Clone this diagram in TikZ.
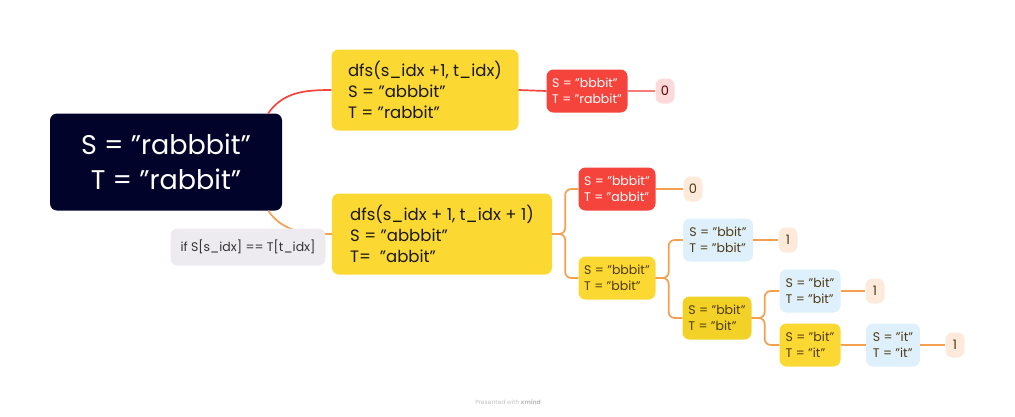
\documentclass[tikz,border=0pt]{standalone}
\usepackage{fontspec}
\setmainfont{Poppins}
\usetikzlibrary{positioning}
\definecolor{wurzel}{HTML}{02032B}
\definecolor{gelb}{HTML}{FCD832}
\definecolor{gelbdunkel}{HTML}{F2D226}
\definecolor{rot}{HTML}{F5443B}
\definecolor{hellblau}{HTML}{DDF0FB}
\definecolor{hellorange}{HTML}{FDEADB}
\definecolor{hellrot}{HTML}{FCDADA}
\definecolor{grau}{HTML}{EDEBF0}
\definecolor{braun}{HTML}{4F3A12}
\definecolor{linierot}{HTML}{F2453D}
\definecolor{linieorange}{HTML}{F5A04E}

\begin{document}
\begin{tikzpicture}[x=1pt, y=-1pt, % Pixelkoordinaten, y nach unten
  box/.style={rounded corners=7pt, inner sep=0pt, align=left},
  rootbox/.style={box, fill=wurzel, text=white, align=center, minimum width=232pt, minimum height=97pt, font=\fontsize{27}{35}\selectfont},
  bigbox/.style={box, fill=gelb, text=black!90, minimum height=81pt, font=\fontsize{16.5}{21}\selectfont},
  smallbox/.style={box, minimum height=43pt, font=\fontsize{12.5}{16}\selectfont},
  redbox/.style={smallbox, fill=rot, text=white},
  yellowbox/.style={smallbox, fill=gelb, text=braun},
  bluebox/.style={smallbox, fill=hellblau, text=braun},
  leaf/.style={box, minimum width=19pt, minimum height=25pt, font=\fontsize{13}{16}\selectfont},
  redline/.style={draw=linierot, line width=1.7pt},
  orangeline/.style={draw=linieorange, line width=1.7pt, rounded corners=6pt}]

\useasboundingbox (0,0) rectangle (1015,416);

% Wurzel
\node[rootbox] (root) at (166,162) {S = "rabbbit"\\T = "rabbit"};

% erster Zweig
\node[bigbox, minimum width=187pt] (a) at (425,90) {dfs(s\_idx +1, t\_idx)\\S = "abbbit"\\T = "rabbit"};
\node[redbox, minimum width=81pt] (a1) at (587,91) {S = "bbbit"\\T = "rabbit"};
\node[leaf, fill=hellrot, text=red!40!black] (a0) at (665,91) {0};

% zweiter Zweig
\node[bigbox, minimum width=220pt] (b) at (442,234) {dfs(s\_idx + 1, t\_idx + 1)\\S = "abbbit"\\T=\ \ "abbit"};
\node[redbox, minimum width=77pt] (b1) at (617,189) {S = "bbbit"\\T = "abbit"};
\node[leaf, fill=hellorange, text=braun] (b10) at (693,189) {0};
\node[yellowbox, minimum width=77pt] (b2) at (617,278) {S = "bbbit"\\T = "bbit"};
\node[bluebox, minimum width=70pt] (b21) at (718,240) {S = "bbit"\\T = "bbit"};
\node[leaf, fill=hellorange, text=braun] (b210) at (788,240) {1};
\node[yellowbox, fill=gelbdunkel, minimum width=69pt] (b22) at (717,318) {S = "bbit"\\T = "bit"};
\node[bluebox, minimum width=61pt] (b221) at (810,291) {S = "bit"\\T = "bit"};
\node[leaf, fill=hellorange, text=braun] (b2210) at (875,291) {1};
\node[yellowbox, minimum width=61pt] (b222) at (810,345) {S = "bit"\\T = "it"};
\node[bluebox, minimum width=54pt] (b2221) at (893,345) {S = "it"\\T = "it"};
\node[leaf, fill=hellorange, text=braun] (b22210) at (955,345) {1};

% Verbindungen
\draw[redline] ([xshift=-14pt]root.north east) to[out=55, in=180] (a.west);
\draw[orangeline] ([xshift=-14pt]root.south east) to[out=-55, in=180] (b.west);
\draw[redline] (a.east) -- (a1.west);
\draw[redline, draw=linierot!70] (a1.east) -- (a0.west);
\foreach \p/\k in {b/b1, b/b2, b2/b21, b2/b22, b22/b221, b22/b222} {
  \draw[orangeline] (\p.east) -- ++(13,0) |- (\k.west);
}
\foreach \p/\k in {b1/b10, b21/b210, b221/b2210, b222/b2221, b2221/b22210} {
  \draw[orangeline] (\p.east) -- (\k.west);
}

% Bedingung
\node[box, fill=grau, text=black!80, minimum width=155pt, minimum height=37pt, font=\fontsize{12.5}{16}\selectfont] (cond) at (248,247) {if S[s\_idx] == T[t\_idx]};

% Fusszeile
\node[text=black!25, font=\fontsize{6}{7}\selectfont] (foot) at (508,402) {Presented with \textbf{xmind}};

\end{tikzpicture}
\end{document}
